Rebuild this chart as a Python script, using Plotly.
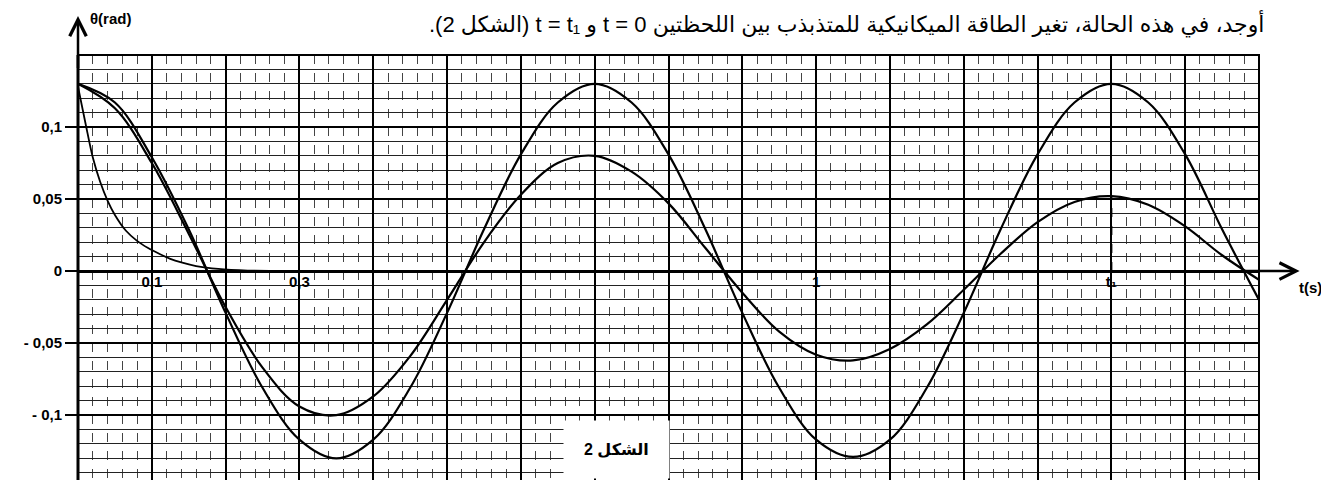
import plotly.graph_objects as go

# time samples (s)
t = [0, 0.05, 0.1, 0.15, 0.2, 0.25, 0.3, 0.35, 0.4, 0.45, 0.5, 0.55, 0.6, 0.65,
     0.7, 0.75, 0.8, 0.85, 0.9, 0.95, 1.0, 1.05, 1.1, 1.15, 1.2, 1.25, 1.3, 1.35,
     1.4, 1.45, 1.5, 1.55, 1.6]

# free oscillation (constant amplitude)
theta_free = [0.130, 0.117, 0.079, 0.029, -0.029, -0.081, -0.117, -0.130, -0.117,
              -0.081, -0.029, 0.029, 0.081, 0.117, 0.130, 0.117, 0.081, 0.029,
              -0.029, -0.081, -0.117, -0.129, -0.117, -0.081, -0.029, 0.029,
              0.081, 0.117, 0.130, 0.117, 0.081, 0.029, -0.020]

# pseudo-periodic (damped) oscillation
theta_damped = [0.130, 0.113, 0.075, 0.026, -0.025, -0.067, -0.094, -0.100, -0.087,
                -0.059, -0.020, 0.020, 0.053, 0.075, 0.080, 0.069, 0.047, 0.016,
                -0.015, -0.042, -0.058, -0.062, -0.054, -0.037, -0.013, 0.012,
                0.034, 0.048, 0.052, 0.046, 0.031, 0.011, -0.006]

# aperiodic return to equilibrium
t_aper = [0, 0.01, 0.02, 0.03, 0.04, 0.05, 0.065, 0.08, 0.095, 0.11, 0.125, 0.14,
          0.16, 0.19, 0.23, 0.3, 0.4]
theta_aper = [0.128, 0.103, 0.079, 0.062, 0.049, 0.039, 0.028, 0.021, 0.016, 0.012,
              0.0085, 0.006, 0.0035, 0.0015, 0.0004, 0, 0]

t1 = 1.4
theta_t1 = 0.052

x_ticks = [0.1, 0.2, 0.3, 0.4, 0.5, 0.6, 0.7, 0.8, 0.9, 1.0, 1.1, 1.2, 1.3, 1.4, 1.5, 1.6]
x_labels = ['0,1', '', '0,3', '', '', '', '', '', '', '1', '', '', '', 't₁', '', '']
y_ticks = [0.1, 0.05, 0, -0.05, -0.1]
y_labels = ['0,1', '0,05', '0', '- 0,05', '- 0,1']

question = ('أوجد، في هذه الحالة، تغير الطاقة الميكانيكية للمتذبذب بين اللحظتين '
            't = 0 و t = t₁ (الشكل 2).')

FONT = 'Arial, Liberation Sans, DejaVu Sans, sans-serif'

fig = go.Figure()

fig.add_trace(go.Scatter(x=t, y=theta_free, mode='lines',
                         line=dict(color='black', width=2.2, shape='spline')))
fig.add_trace(go.Scatter(x=t, y=theta_damped, mode='lines',
                         line=dict(color='black', width=2.2, shape='spline')))
fig.add_trace(go.Scatter(x=t_aper, y=theta_aper, mode='lines',
                         line=dict(color='black', width=1.8, shape='spline', smoothing=1)))
fig.add_trace(go.Scatter(x=[t1, t1], y=[0, theta_t1], mode='lines',
                         line=dict(color='black', width=2, dash='dash')))

fig.update_xaxes(range=[0, 1.6], tickvals=x_ticks,
                 ticktext=['<b>%s</b>' % s if s else '' for s in x_labels],
                 anchor='free', position=0.4915, showline=False, zeroline=False,
                 ticks='', showgrid=True, gridcolor='black', gridwidth=1.5,
                 tickfont=dict(family=FONT, size=15, color='black'),
                 minor=dict(dtick=0.02, showgrid=True, gridcolor='#444',
                            gridwidth=1, griddash='dash'))
fig.update_yaxes(range=[-0.145, 0.15], tickvals=y_ticks,
                 ticktext=['<b>%s</b>' % s for s in y_labels],
                 showline=False, zeroline=True, zerolinecolor='black', zerolinewidth=3,
                 ticks='outside', ticklen=12, tickwidth=2, tickcolor='black',
                 showgrid=True, gridcolor='black', gridwidth=2,
                 tickfont=dict(family=FONT, size=15, color='black'),
                 minor=dict(dtick=0.01, showgrid=True, gridcolor='#222',
                            gridwidth=1.2, griddash='solid'))

shapes = [
    # graph paper border
    dict(type='rect', xref='paper', yref='paper', x0=0, x1=1, y0=-0.03, y1=1,
         line=dict(color='black', width=2)),
    # theta axis
    dict(type='line', xref='paper', yref='paper', x0=0, x1=0, y0=-0.03, y1=1,
         line=dict(color='black', width=3)),
    # page frame
    dict(type='line', xref='paper', yref='paper', x0=-0.0635, x1=-0.0635, y0=-0.05, y1=1.15,
         line=dict(color='black', width=4)),
    dict(type='line', xref='paper', yref='paper', x0=1.0559, x1=1.0559, y0=-0.05, y1=1.15,
         line=dict(color='black', width=2.5, dash='dash')),
]

annotations = [
    # axis arrows
    dict(x=1.655, y=0, ax=1.58, ay=0, xref='x', yref='y', axref='x', ayref='y',
         showarrow=True, arrowhead=5, arrowsize=1.3, arrowwidth=2.5, arrowcolor='black', text=''),
    dict(x=0, y=0.177, ax=0, ay=0.14, xref='x', yref='y', axref='x', ayref='y',
         showarrow=True, arrowhead=5, arrowsize=1.3, arrowwidth=2.5, arrowcolor='black', text=''),
    dict(x=0.0085, y=1.087, xref='paper', yref='paper', xanchor='left', yanchor='middle',
         showarrow=False, text='<b>θ(rad)</b>', font=dict(family=FONT, size=15, color='black')),
    dict(x=1.044, y=0.454, xref='paper', yref='paper', xanchor='center', yanchor='middle',
         showarrow=False, text='<b>t(s)</b>', font=dict(family=FONT, size=15, color='black')),
    dict(x=1.005, y=1.108, xref='paper', yref='paper', xanchor='right', yanchor='top',
         showarrow=False, text='\u202b' + question + '\u202c', borderpad=0,
         font=dict(family=FONT, size=22, color='black')),
    dict(x=0.73, y=-0.124, xref='x', yref='y', xanchor='center', yanchor='middle',
         showarrow=False, text='<b>الشكل 2</b>', bgcolor='white', borderpad=20,
         font=dict(family=FONT, size=16, color='black')),
]

# the page body adds an 8 px offset, so the figure is laid out 8 px smaller
fig.update_layout(width=1321, height=472, showlegend=False,
                  margin=dict(l=70, r=70, t=47, b=0),
                  paper_bgcolor='white', plot_bgcolor='white',
                  shapes=shapes, annotations=annotations)

fig.write_html('out.html')
